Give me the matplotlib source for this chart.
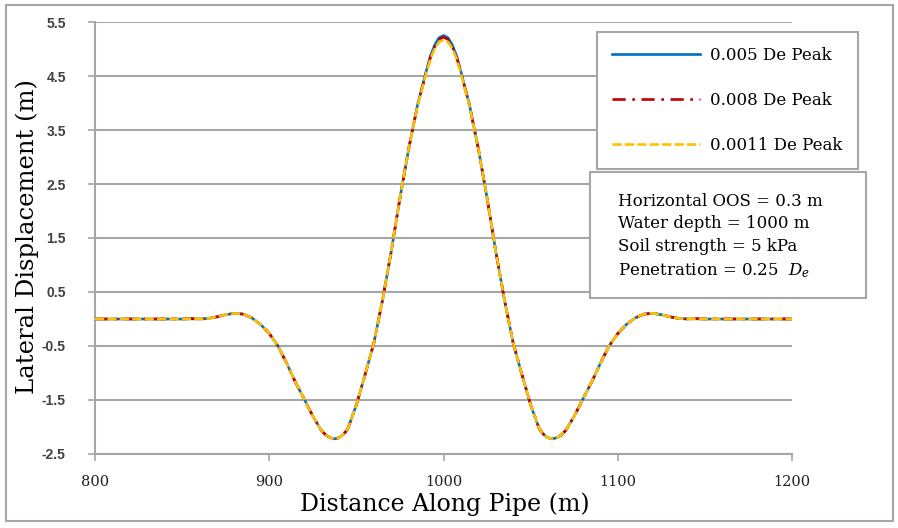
import matplotlib.pyplot as plt
from matplotlib.patches import Rectangle

plt.rcParams['font.family'] = ['DejaVu Serif', 'Liberation Serif']
plt.rcParams['mathtext.fontset'] = 'custom'
plt.rcParams['mathtext.it'] = 'DejaVu Serif:italic'
plt.rcParams['mathtext.rm'] = 'DejaVu Serif'

# distance along pipe (m)
distance = [800, 805, 810, 815, 820, 825, 830, 835, 840, 845,
            850, 855, 860, 865, 870, 875, 880, 885, 890, 895,
            900, 905, 910, 915, 920, 925,
            930, 932.5, 935, 937.5, 940, 942.5, 945,
            950, 955, 960, 965, 970, 975, 980, 985,
            990, 992.5, 995, 997.5, 1000, 1002.5, 1005, 1007.5, 1010,
            1015, 1020, 1025, 1030, 1035, 1040, 1045, 1050,
            1055, 1057.5, 1060, 1062.5, 1065, 1067.5, 1070,
            1075, 1080, 1085, 1090, 1095, 1100,
            1105, 1110, 1115, 1120, 1125, 1130, 1135, 1140, 1145, 1150,
            1155, 1160, 1165, 1170, 1175, 1180, 1185, 1190, 1195, 1200]

# lateral displacement (m)
disp_005 = [0, 0, 0, 0, 0, 0, 0, 0, 0, 0,
            0, 0.005, 0, 0.01, 0.04, 0.08, 0.105, 0.09, 0.02, -0.10,
            -0.27, -0.50, -0.82, -1.17, -1.48, -1.80,
            -2.07, -2.15, -2.20, -2.22, -2.20, -2.14, -2.04,
            -1.59, -1.03, -0.45, 0.35, 1.25, 2.24, 3.15, 3.95,
            4.58, 4.87, 5.08, 5.21, 5.25, 5.21, 5.08, 4.87, 4.58,
            3.95, 3.15, 2.24, 1.25, 0.35, -0.45, -1.03, -1.59,
            -2.04, -2.14, -2.20, -2.22, -2.20, -2.15, -2.07,
            -1.80, -1.48, -1.17, -0.82, -0.50, -0.27,
            -0.10, 0.02, 0.09, 0.105, 0.08, 0.04, 0.01, 0, 0.005, 0,
            0, 0, 0, 0, 0, 0, 0, 0, 0, 0]
disp_008 = [0, 0, 0, 0, 0, 0, 0, 0, 0, 0,
            0, 0.005, 0, 0.01, 0.04, 0.08, 0.105, 0.09, 0.02, -0.10,
            -0.27, -0.50, -0.82, -1.17, -1.48, -1.80,
            -2.07, -2.15, -2.20, -2.22, -2.20, -2.14, -2.04,
            -1.59, -1.03, -0.45, 0.35, 1.25, 2.24, 3.15, 3.94,
            4.56, 4.85, 5.05, 5.18, 5.22, 5.18, 5.05, 4.85, 4.56,
            3.94, 3.15, 2.24, 1.25, 0.35, -0.45, -1.03, -1.59,
            -2.04, -2.14, -2.20, -2.22, -2.20, -2.15, -2.07,
            -1.80, -1.48, -1.17, -0.82, -0.50, -0.27,
            -0.10, 0.02, 0.09, 0.105, 0.08, 0.04, 0.01, 0, 0.005, 0,
            0, 0, 0, 0, 0, 0, 0, 0, 0, 0]
disp_0011 = [0, 0, 0, 0, 0, 0, 0, 0, 0, 0,
             0, 0.005, 0, 0.01, 0.04, 0.08, 0.105, 0.09, 0.02, -0.10,
             -0.27, -0.50, -0.82, -1.17, -1.48, -1.80,
             -2.07, -2.15, -2.20, -2.22, -2.20, -2.14, -2.04,
             -1.59, -1.03, -0.45, 0.35, 1.25, 2.24, 3.15, 3.93,
             4.54, 4.82, 5.01, 5.13, 5.17, 5.13, 5.01, 4.82, 4.54,
             3.93, 3.15, 2.24, 1.25, 0.35, -0.45, -1.03, -1.59,
             -2.04, -2.14, -2.20, -2.22, -2.20, -2.15, -2.07,
             -1.80, -1.48, -1.17, -0.82, -0.50, -0.27,
             -0.10, 0.02, 0.09, 0.105, 0.08, 0.04, 0.01, 0, 0.005, 0,
             0, 0, 0, 0, 0, 0, 0, 0, 0, 0]

labels = ['0.005 De Peak', '0.008 De Peak', '0.0011 De Peak']
y_ticks = [5.5, 4.5, 3.5, 2.5, 1.5, 0.5, -0.5, -1.5, -2.5]
x_ticks = [800, 900, 1000, 1100, 1200]

fig = plt.figure(figsize=(8.98, 5.28), dpi=100)
ax = fig.add_axes([0.1058, 0.1402, 0.7762, 0.8181])

ax.plot(distance, disp_005, color='#0070C0', lw=1.9, label=labels[0], zorder=3)
ax.plot(distance, disp_008, color='#C00000', lw=1.9, dashes=(5, 2.5, 1, 2.5), label=labels[1], zorder=4)
ax.plot(distance, disp_0011, color='#FFC000', lw=1.9, dashes=(3.5, 1.2), label=labels[2], zorder=5)

ax.set_xlim(800, 1200)
ax.set_ylim(-2.5, 5.5)
ax.set_xticks(x_ticks)
ax.set_yticks(y_ticks)
ax.set_yticklabels(['%.1f' % v for v in y_ticks], family='Liberation Sans', fontweight='bold',
                   fontsize=10, color='#404040')
ax.set_xticklabels([str(v) for v in x_ticks], fontsize=10.5, color='#202020')
ax.grid(axis='y', color='#a6a6a6', lw=1.5)
ax.set_axisbelow(True)
for s in ['top', 'right']:
    ax.spines[s].set_visible(False)
for s in ['left', 'bottom']:
    ax.spines[s].set_color('#a6a6a6')
    ax.spines[s].set_linewidth(1.5)
ax.tick_params(axis='both', direction='out', length=5, width=1.2, color='#a6a6a6')
ax.tick_params(axis='x', pad=10)
ax.tick_params(axis='y', pad=16)

fig.text(445 / 898, 1 - 504 / 528, 'Distance Along Pipe (m)', fontsize=17,
         ha='center', va='center')
fig.text(27 / 898, 1 - 237 / 528, 'Lateral Displacement (m)', fontsize=17.5,
         ha='center', va='center', rotation=90)

leg = ax.legend(loc='upper left', bbox_to_anchor=(597 / 898, 1 - 32 / 528),
                bbox_transform=fig.transFigure, borderaxespad=0, fontsize=12,
                handlelength=5.3, labelspacing=1.68, borderpad=0.9, handletextpad=0.6,
                fancybox=False, framealpha=1, edgecolor='#a6a6a6')
leg.get_frame().set_linewidth(1.5)

# info box
fig.patches.append(Rectangle((590 / 898, 1 - 298 / 528), 276 / 898, 126 / 528,
                             transform=fig.transFigure, facecolor='white',
                             edgecolor='#a6a6a6', lw=1.5, zorder=6))
info = ('Horizontal OOS = 0.3 m\nWater depth = 1000 m\nSoil strength = 5 kPa\n'
        'Penetration = 0.25  $D_e$')
fig.text(618 / 898, 1 - 193 / 528, info, fontsize=12, va='top', ha='left',
         linespacing=1.42, zorder=7)

fig.patches.append(Rectangle((0.007, 0.013), 0.987, 0.978, transform=fig.transFigure,
                             fill=False, edgecolor='#a6a6a6', lw=1.5))

fig.savefig('out.png', dpi=100)
